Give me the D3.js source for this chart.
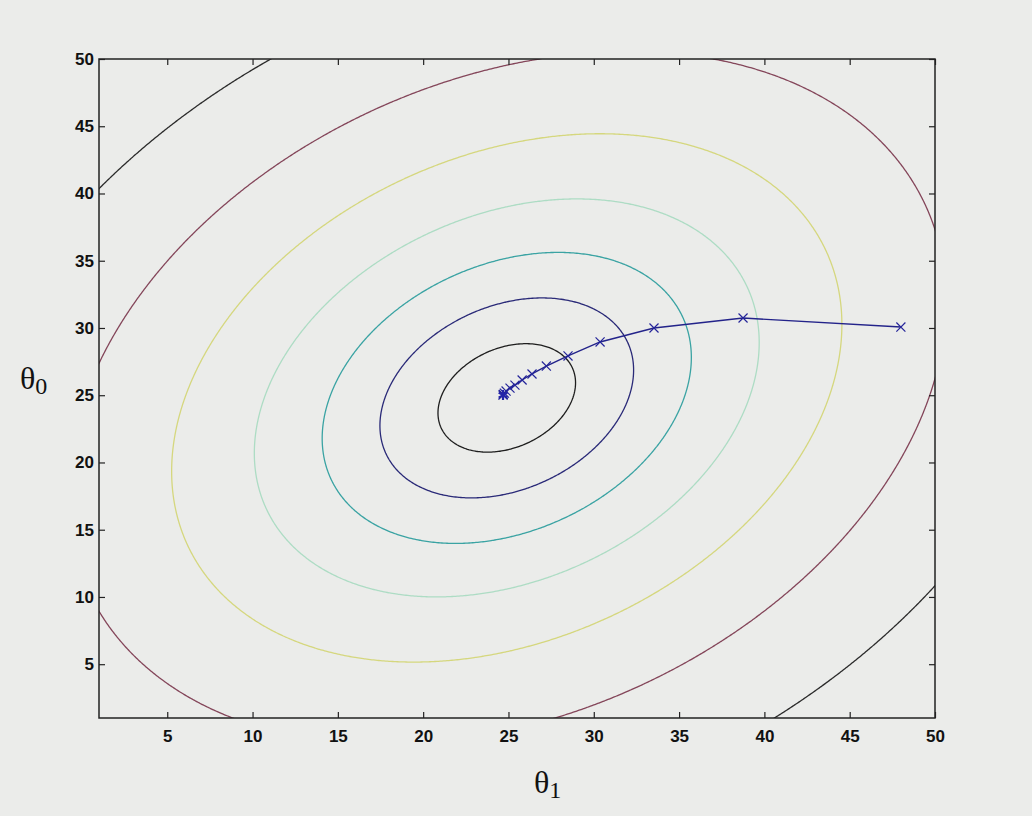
<!DOCTYPE html>
<html>
<head>
<meta charset="utf-8">
<script src="https://cdn.jsdelivr.net/npm/d3@7"></script>
<style>
  html, body { margin: 0; padding: 0; background: #ebecea; }
  svg { display: block; }
</style>
</head>
<body>
<svg id="chart" width="1032" height="816"></svg>
<script>
// ---------------- data ----------------
const theta1Ticks = [5, 10, 15, 20, 25, 30, 35, 40, 45, 50];
const theta0Ticks = [5, 10, 15, 20, 25, 30, 35, 40, 45, 50];
const theta1Domain = [1, 50];
const theta0Domain = [1, 50];

// cost surface J(θ1, θ0) = A·d1² + 2B·d1·d0 + C·d0²  (d = θ − centre)
const costCentre = [24.9, 24.8];
const costCoeffs = [1, -0.278, 1];     // A, B, C
const contourLevels = [15, 51, 108, 202, 356, 612, 1020];
const contourColors = ["#1e1e1e", "#2a2a78", "#3aa3a3", "#addcc4", "#d5d77e", "#84465a", "#2b2b2b"];

// gradient-descent iterates
const pathTheta1 = [48.0, 38.75, 33.53, 30.37, 28.49, 27.22, 26.38, 25.80, 25.38, 25.09, 24.86, 24.76, 24.70, 24.68];
const pathTheta0 = [30.07, 30.74, 30.00, 28.96, 27.92, 27.17, 26.58, 26.13, 25.75, 25.53, 25.31, 25.16, 25.06, 25.01];

// ---------------- drawing ----------------
const svg = d3.select("#chart");
const x = d3.scaleLinear().domain(theta1Domain).range([99, 935]);
const y = d3.scaleLinear().domain(theta0Domain).range([718, 59]);

svg.append("defs").append("clipPath").attr("id", "plotclip")
  .append("rect")
  .attr("x", x(theta1Domain[0])).attr("y", y(theta0Domain[1]))
  .attr("width", x(theta1Domain[1]) - x(theta1Domain[0]))
  .attr("height", y(theta0Domain[0]) - y(theta0Domain[1]));

// grid of cost values (extends beyond the plot so grid borders get clipped)
const g0 = -6, g1 = 57, step = 0.1;
const n = Math.round((g1 - g0) / step) + 1;
const values = new Float64Array(n * n);
const [A, B, C] = costCoeffs;
for (let j = 0; j < n; j++) {
  const t0 = g1 - j * step;
  const d0 = t0 - costCentre[1];
  for (let i = 0; i < n; i++) {
    const t1 = g0 + i * step;
    const d1 = t1 - costCentre[0];
    values[j * n + i] = A * d1 * d1 + 2 * B * d1 * d0 + C * d0 * d0;
  }
}
const contours = d3.contours().size([n, n]).thresholds(contourLevels)(values);

const proj = d3.geoTransform({
  point: function(px, py) {
    const t1 = g0 + (px - 0.5) * step;
    const t0 = g1 - (py - 0.5) * step;
    this.stream.point(x(t1), y(t0));
  }
});
const geoPath = d3.geoPath(proj);

const plot = svg.append("g").attr("clip-path", "url(#plotclip)");
plot.selectAll("path.contour")
  .data(contours)
  .join("path")
  .attr("class", "contour")
  .attr("d", geoPath)
  .attr("fill", "none")
  .attr("stroke", (d, i) => contourColors[i])
  .attr("stroke-width", 1.3);

// descent path
const pts = pathTheta1.map((t1, i) => [t1, pathTheta0[i]]);
const line = d3.line().x(d => x(d[0])).y(d => y(d[1]));
plot.append("path")
  .datum(pts)
  .attr("d", line)
  .attr("fill", "none")
  .attr("stroke", "#23238a")
  .attr("stroke-width", 1.4);

const xSym = d3.symbol().type(d3.symbolX).size(55);
plot.selectAll("path.mk")
  .data(pts)
  .join("path")
  .attr("class", "mk")
  .attr("transform", d => `translate(${x(d[0])},${y(d[1])})`)
  .attr("d", xSym)
  .attr("fill", "none")
  .attr("stroke", "#25259a")
  .attr("stroke-width", 1.2);

const last = pts[pts.length - 1];
plot.append("path")
  .attr("transform", `translate(${x(last[0])},${y(last[1])})`)
  .attr("d", d3.symbol().type(d3.symbolAsterisk).size(70)())
  .attr("fill", "none")
  .attr("stroke", "#2424a8")
  .attr("stroke-width", 2.2);

// axes
const font = "'Liberation Sans', Arial, sans-serif";
const axB = svg.append("g").attr("transform", `translate(0,${y(theta0Domain[0])})`)
  .call(d3.axisBottom(x).tickValues(theta1Ticks).tickSize(-6).tickPadding(12));
const axL = svg.append("g").attr("transform", `translate(${x(theta1Domain[0])},0)`)
  .call(d3.axisLeft(y).tickValues(theta0Ticks).tickSize(-6).tickPadding(5));
const axT = svg.append("g").attr("transform", `translate(0,${y(theta0Domain[1])})`)
  .call(d3.axisTop(x).tickValues(theta1Ticks).tickSize(-6).tickFormat(""));
const axR = svg.append("g").attr("transform", `translate(${x(theta1Domain[1])},0)`)
  .call(d3.axisRight(y).tickValues(theta0Ticks).tickSize(-6).tickFormat(""));
[axB, axL, axT, axR].forEach(a => {
  a.select(".domain").remove();
  a.selectAll(".tick line").attr("stroke", "#222").attr("stroke-width", 1.2);
  a.selectAll("text").attr("fill", "#111").style("font-family", font)
    .style("font-size", "17px").style("font-weight", "bold");
});

svg.append("rect")
  .attr("x", x(theta1Domain[0])).attr("y", y(theta0Domain[1]))
  .attr("width", x(theta1Domain[1]) - x(theta1Domain[0]))
  .attr("height", y(theta0Domain[0]) - y(theta0Domain[1]))
  .attr("fill", "none").attr("stroke", "#222").attr("stroke-width", 1.5);

// axis labels
const serif = "'Liberation Serif', 'Times New Roman', serif";
const xl = svg.append("text").attr("x", 534).attr("y", 793)
  .style("font-family", serif).style("font-size", "32px").attr("fill", "#111");
xl.append("tspan").text("θ");
xl.append("tspan").attr("dy", 5).style("font-size", "24px").text("1");

const yl = svg.append("text").attr("x", 20).attr("y", 389)
  .style("font-family", serif).style("font-size", "32px").attr("fill", "#111");
yl.append("tspan").text("θ");
yl.append("tspan").attr("dy", 5).style("font-size", "24px").text("0");
</script>
</body>
</html>
